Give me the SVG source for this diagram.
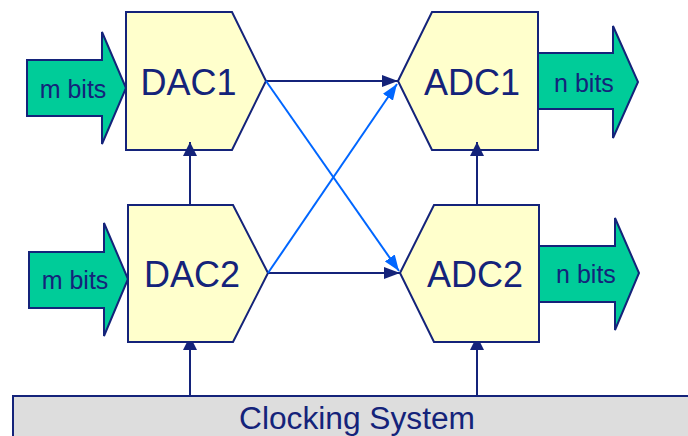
<svg xmlns="http://www.w3.org/2000/svg" width="688" height="436" viewBox="0 0 688 436">
<style>
.blk{fill:#ffffcc;stroke:#14237a;stroke-width:2;stroke-linejoin:miter}
.bus{fill:#00cc99;stroke:#14237a;stroke-width:2}
.t{font-family:"Liberation Sans",Arial,sans-serif;fill:#14237a;text-anchor:middle}
.big{font-size:36px}
.small{font-size:25px}
.nav{stroke:#14237a;stroke-width:2;fill:none}
.blu{stroke:#0066ff;stroke-width:2;fill:none}
</style>
<defs>
<marker id="hn" viewBox="0 0 16 12" refX="16" refY="6" markerWidth="16" markerHeight="12" markerUnits="userSpaceOnUse" orient="auto">
<path d="M0,0 L16,6 L0,12 z" fill="#14237a"/>
</marker>
<marker id="hb" viewBox="0 0 16 12" refX="16" refY="6" markerWidth="16" markerHeight="12" markerUnits="userSpaceOnUse" orient="auto">
<path d="M0,0 L16,6 L0,12 z" fill="#0066ff"/>
</marker>
<marker id="hv" viewBox="0 0 14 14" refX="14" refY="7" markerWidth="14" markerHeight="14" markerUnits="userSpaceOnUse" orient="auto">
<path d="M0,0 L14,7 L0,14 z" fill="#14237a"/>
</marker>
</defs>
<g id="clock">
<rect x="13" y="396" width="700" height="60" fill="#dddddd" stroke="#14237a" stroke-width="2"/>
<text class="t" x="357" y="429" font-size="31" textLength="236" lengthAdjust="spacingAndGlyphs">Clocking System</text>
</g>
<g id="connectors-clock">
<line class="nav" x1="190" y1="396" x2="190" y2="336" marker-end="url(#hv)"/>
<line class="nav" x1="477" y1="396" x2="477" y2="336" marker-end="url(#hv)"/>
</g>
<g id="dac1">
<polygon class="blk" points="126,12 232,12 266,81 232,150 126,150"/>
<text class="t big" x="188.5" y="95">DAC1</text>
</g>
<g id="dac2">
<polygon class="blk" points="128,205 233,205 268,273 233,342 128,342"/>
<text class="t big" x="192" y="287">DAC2</text>
</g>
<g id="adc1">
<polygon class="blk" points="398,81 432,12 538,12 538,150 432,150"/>
<text class="t big" x="472" y="95">ADC1</text>
</g>
<g id="adc2">
<polygon class="blk" points="400,273 434,205 539,205 539,342 434,342"/>
<text class="t big" x="475" y="287">ADC2</text>
</g>
<g id="in1">
<polygon class="bus" points="27,60 102,60 102,32 126,88 102,144 102,116 27,116"/>
<text class="t small" x="73" y="98">m bits</text>
</g>
<g id="in2">
<polygon class="bus" points="29,252 104,252 104,223 128,279 104,336 104,308 29,308"/>
<text class="t small" x="75" y="289">m bits</text>
</g>
<g id="out1">
<polygon class="bus" points="538,53 613,53 613,26 638,82 613,138 613,109 538,109"/>
<text class="t small" x="584" y="92">n bits</text>
</g>
<g id="out2">
<polygon class="bus" points="539,246 615,246 615,218 639,273 615,330 615,302 539,302"/>
<text class="t small" x="586" y="283">n bits</text>
</g>
<g id="connectors">
<line class="nav" x1="190" y1="205" x2="190" y2="142" marker-end="url(#hv)"/>
<line class="nav" x1="477" y1="205" x2="477" y2="142" marker-end="url(#hv)"/>
<line class="nav" x1="266" y1="81" x2="398" y2="81" marker-end="url(#hn)"/>
<line class="nav" x1="268" y1="273" x2="400" y2="273" marker-end="url(#hn)"/>
<line class="blu" x1="266" y1="81" x2="399" y2="271" marker-end="url(#hb)"/>
<line class="blu" x1="268" y1="273" x2="397" y2="84" marker-end="url(#hb)"/>
</g>
</svg>
